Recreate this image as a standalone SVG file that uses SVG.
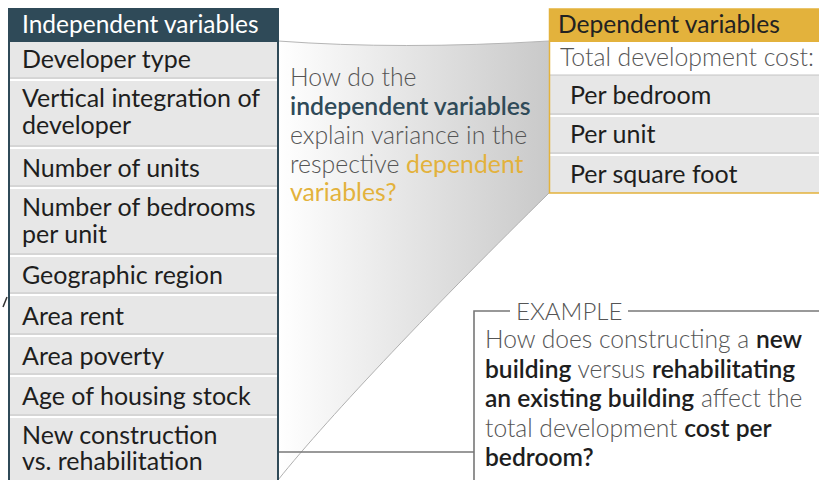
<svg xmlns="http://www.w3.org/2000/svg" width="819" height="480" viewBox="0 0 819 480">
<defs>
<linearGradient id="funnel" x1="278" y1="0" x2="549" y2="0" gradientUnits="userSpaceOnUse">
<stop offset="0" stop-color="#ffffff"/>
<stop offset="1" stop-color="#c9c9c9"/>
</linearGradient>
<style>
text{font-family:Lato,"Open Sans","Liberation Sans",sans-serif;}
.sep{stroke:#c4c4c4;stroke-width:1;}
.sepw{stroke:#ffffff;stroke-width:2;}
.item{font-size:25px;fill:#1e1e1e;}
.q{font-size:24.8px;fill:#555555;font-weight:300;}
.ex{font-size:24.6px;fill:#555555;font-weight:300;}
.b{font-weight:600;fill:#1e1e1e;}
.line{stroke:#777777;stroke-width:1.6;fill:none;}
</style>
</defs>
<rect width="819" height="480" fill="#ffffff"/>

<g id="funnel-shape">
<path d="M278,41 Q400,50 549,41 L549,193 C440,300 330,415 278,480 Z" fill="url(#funnel)"/>
<path d="M278,41 Q400,50 549,41" fill="none" stroke="#b5b5b5" stroke-width="1"/>
<path d="M549,193 C440,300 330,415 278,480" fill="none" stroke="#b0b0b0" stroke-width="1"/>
</g>

<g id="question">
<text class="q" x="290" y="86">How do the</text>
<text class="q" x="290" y="115" style="fill:#2f4a58;font-weight:600">independent variables</text>
<text class="q" x="290" y="144">explain variance in the</text>
<text class="q" x="290" y="173">respective <tspan style="fill:#e3b23c;font-weight:400">dependent</tspan></text>
<text class="q" x="290" y="201" style="fill:#e3b23c;font-weight:400">variables?</text>
</g>

<g id="connectors">
<path class="line" d="M225,452 H474"/>
<path class="line" d="M474,480 V311 H510"/>
<path class="line" d="M628,311 H819"/>
</g>

<g id="independent">
<rect x="9" y="9" width="269" height="471" fill="#e7e7e7"/>
<rect x="9" y="9" width="269" height="33" fill="#2f4a58"/>
<text x="22" y="33" style="font-size:24.5px;fill:#ffffff">Independent variables</text>
<g>
<line class="sep" x1="10" y1="78" x2="277" y2="78"/><line class="sepw" x1="10" y1="80" x2="277" y2="80"/>
<line class="sep" x1="10" y1="146" x2="277" y2="146"/><line class="sepw" x1="10" y1="148" x2="277" y2="148"/>
<line class="sep" x1="10" y1="186" x2="277" y2="186"/><line class="sepw" x1="10" y1="188" x2="277" y2="188"/>
<line class="sep" x1="10" y1="254" x2="277" y2="254"/><line class="sepw" x1="10" y1="256" x2="277" y2="256"/>
<line class="sep" x1="10" y1="293" x2="277" y2="293"/><line class="sepw" x1="10" y1="295" x2="277" y2="295"/>
<line class="sep" x1="10" y1="334" x2="277" y2="334"/><line class="sepw" x1="10" y1="336" x2="277" y2="336"/>
<line class="sep" x1="10" y1="374" x2="277" y2="374"/><line class="sepw" x1="10" y1="376" x2="277" y2="376"/>
<line class="sep" x1="10" y1="415" x2="277" y2="415"/><line class="sepw" x1="10" y1="417" x2="277" y2="417"/>
</g>
<text class="item" x="22" y="68">Developer type</text>
<text class="item" x="22" y="107">Vertical integration of<tspan x="22" dy="27">developer</tspan></text>
<text class="item" x="22" y="177">Number of units</text>
<text class="item" x="22" y="216">Number of bedrooms<tspan x="22" dy="27">per unit</tspan></text>
<text class="item" x="22" y="284">Geographic region</text>
<text class="item" x="22" y="325">Area rent</text>
<text class="item" x="22" y="365">Area poverty</text>
<text class="item" x="22" y="405">Age of housing stock</text>
<text class="item" x="22" y="444">New construction<tspan x="22" dy="26">vs. rehabilitation</tspan></text>
<path d="M9,481 V9 H278 V481" fill="none" stroke="#2f4a58" stroke-width="2"/>
</g>

<g id="dependent">
<rect x="549" y="9" width="272" height="184" fill="#e7e7e7"/>
<rect x="549" y="9" width="272" height="33" fill="#e3b23c"/>
<rect x="550" y="42" width="271" height="33" fill="#ffffff"/>
<text x="558" y="33" style="font-size:24.6px;fill:#222222">Dependent variables</text>
<text x="560" y="66" style="font-size:24.8px;fill:#555555;font-weight:300">Total development cost:</text>
<line class="sep" x1="550" y1="75" x2="819" y2="75"/>
<line class="sep" x1="550" y1="114" x2="819" y2="114"/><line class="sepw" x1="550" y1="116" x2="819" y2="116"/>
<line class="sep" x1="550" y1="153" x2="819" y2="153"/><line class="sepw" x1="550" y1="155" x2="819" y2="155"/>
<text class="item" x="570" y="104">Per bedroom</text>
<text class="item" x="570" y="143">Per unit</text>
<text class="item" x="570" y="183">Per square foot</text>
<path d="M821,193 H549.5 V9 H821" fill="none" stroke="#e3b23c" stroke-width="1.5"/>
</g>

<g id="example">
<text x="516" y="320" style="font-size:24px;fill:#555555;font-weight:300">EXAMPLE</text>
<text class="ex" x="485" y="348">How does constructing a <tspan class="b">new</tspan></text>
<text class="ex" x="485" y="378"><tspan class="b">building</tspan> versus <tspan class="b">rehabilitating</tspan></text>
<text class="ex" x="485" y="407"><tspan class="b">an existing building</tspan> affect the</text>
<text class="ex" x="485" y="437">total development <tspan class="b">cost per</tspan></text>
<text class="ex" x="485" y="466"><tspan class="b">bedroom?</tspan></text>
</g>

<g id="edge-fragment">
<line x1="3" y1="307" x2="7" y2="297" stroke="#333333" stroke-width="1.5"/>
</g>
</svg>
